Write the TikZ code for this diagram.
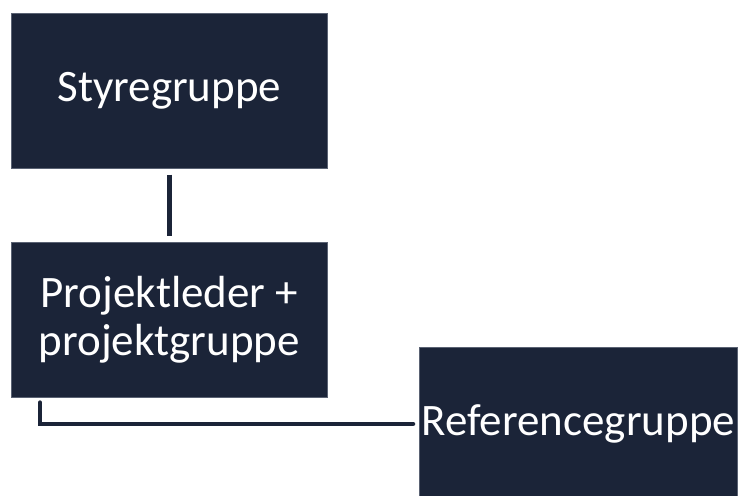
\documentclass[tikz,border=0pt]{standalone}
\usepackage{fontspec}
\setmainfont{Carlito}
\definecolor{navy}{RGB}{27,36,56}
\definecolor{edge}{RGB}{90,98,115}
\begin{document}
\begin{tikzpicture}[x=1pt,y=-1pt,
  box/.style={draw=edge,line width=0.6pt,fill=navy,text=white,inner sep=0pt,anchor=north west,align=center,font=\fontsize{45}{48}\selectfont},
  conn/.style={draw=navy,line width=4.5pt}]
\clip (0,0) rectangle (738,495);
\fill[white] (0,0) rectangle (738,495);
\node[box,minimum width=316pt,minimum height=155pt] (s) at (11,13) {Styregruppe};
\node[box,minimum width=316pt,minimum height=155pt] (p) at (11,242) {Projektleder +\\projektgruppe};
\node[box,minimum width=318pt,minimum height=153pt] (r) at (419,347) {Referencegruppe};
\draw[conn,shorten <=6pt,shorten >=6pt] (s.south) -- (p.north);
\draw[conn,line cap=round,shorten >=6pt] ([xshift=29pt,yshift=-5pt]p.south west) |- (r.west);
\end{tikzpicture}
\end{document}
